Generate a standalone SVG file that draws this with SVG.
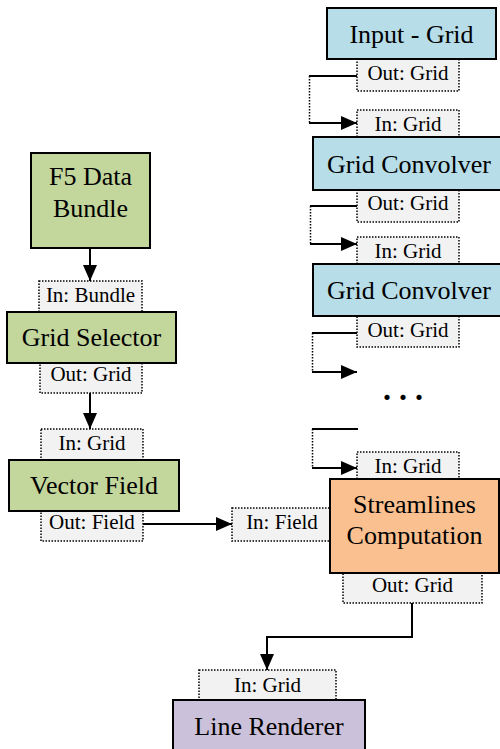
<svg xmlns="http://www.w3.org/2000/svg" width="500" height="749" viewBox="0 0 500 749">
<defs>
<style>
.port{fill:#f2f2f2;stroke:#000;stroke-width:1.5;stroke-dasharray:1.5 1.5}
.node{stroke:#000;stroke-width:2}
.blue{fill:#b7dde8}.green{fill:#c3d69b}.orange{fill:#fac090}.purple{fill:#ccc1da}
.t{font-family:'Liberation Serif',Tinos,'Times New Roman','DejaVu Serif',serif;font-size:26px;text-anchor:middle;fill:#000}
.p{font-family:'Liberation Serif',Tinos,'Times New Roman','DejaVu Serif',serif;font-size:21px;text-anchor:middle;fill:#000}
.dots{font-family:'Liberation Serif',Tinos,'Times New Roman','DejaVu Serif',serif;font-size:32px;font-weight:bold;text-anchor:middle;fill:#000}
.c{fill:none;stroke:#000;stroke-width:2}
.d{fill:none;stroke:#000;stroke-width:1.5;stroke-dasharray:1.5 1.5}
</style>
<marker id="arr" viewBox="0 0 16 14" refX="16" refY="7" markerWidth="16" markerHeight="14" markerUnits="userSpaceOnUse" orient="auto">
<path d="M0,0 L16,7 L0,14 Z" fill="#000"/>
</marker>
</defs>
<g id="connectors">
<path class="c" d="M90,248 V281" marker-end="url(#arr)"/>
<path class="c" d="M90,393 V429" marker-end="url(#arr)"/>
<path class="c" d="M143,524 H232" marker-end="url(#arr)"/>
<path class="c" d="M412,603 V637 H267 V670" marker-end="url(#arr)"/>
<path class="c" d="M357,76 H309"/><path class="d" d="M309.5,76 V123"/><path class="c" d="M309,123 H357" marker-end="url(#arr)"/>
<path class="c" d="M357,206 H310"/><path class="d" d="M310.5,206 V244"/><path class="c" d="M310,244 H357" marker-end="url(#arr)"/>
<path class="c" d="M357,333 H312"/><path class="d" d="M312.5,333 V372"/><path class="c" d="M312,372 H357" marker-end="url(#arr)"/>
<path class="c" d="M358,429 H312"/><path class="d" d="M312.5,429 V468"/><path class="c" d="M312,468 H357" marker-end="url(#arr)"/>
</g>
<g id="ports">
<g id="input-grid-out"><rect class="port" x="357" y="56" width="102" height="35"/><text class="p" x="408" y="80">Out: Grid</text></g>
<g id="conv1-in"><rect class="port" x="357" y="110" width="102" height="30"/><text class="p" x="408" y="131">In: Grid</text></g>
<g id="conv1-out"><rect class="port" x="357" y="187" width="102" height="35"/><text class="p" x="408" y="210">Out: Grid</text></g>
<g id="conv2-in"><rect class="port" x="357" y="237" width="102" height="30"/><text class="p" x="408" y="258">In: Grid</text></g>
<g id="conv2-out"><rect class="port" x="357" y="313" width="102" height="34"/><text class="p" x="408" y="337">Out: Grid</text></g>
<g id="stream-in"><rect class="port" x="357" y="452" width="102" height="30"/><text class="p" x="408" y="473">In: Grid</text></g>
<g id="stream-field-in"><rect class="port" x="232" y="508" width="110" height="33"/><text class="p" x="282" y="529">In: Field</text></g>
<g id="stream-out"><rect class="port" x="343" y="570" width="139" height="33"/><text class="p" x="412.5" y="592">Out: Grid</text></g>
<g id="f5-in"><rect class="port" x="39" y="281" width="103" height="34"/><text class="p" x="90.5" y="302">In: Bundle</text></g>
<g id="sel-out"><rect class="port" x="40" y="360" width="102" height="33"/><text class="p" x="91" y="381">Out: Grid</text></g>
<g id="vf-in"><rect class="port" x="41" y="429" width="102" height="34"/><text class="p" x="92" y="450">In: Grid</text></g>
<g id="vf-out"><rect class="port" x="41" y="508" width="102" height="33"/><text class="p" x="92" y="529">Out: Field</text></g>
<g id="lr-in"><rect class="port" x="199" y="670" width="137" height="33"/><text class="p" x="267.5" y="692">In: Grid</text></g>
</g>
<g id="input-grid"><rect class="node blue" x="327" y="8" width="169" height="51"/><text class="t" x="411.5" y="43">Input - Grid</text></g>
<g id="grid-convolver-1"><rect class="node blue" x="313" y="137" width="192" height="53"/><text class="t" x="409" y="172.5">Grid Convolver</text></g>
<g id="grid-convolver-2"><rect class="node blue" x="313" y="264" width="192" height="52"/><text class="t" x="409" y="299">Grid Convolver</text></g>
<text class="dots" x="403" y="399.5">. . .</text>
<g id="f5-data-bundle"><rect class="node green" x="31" y="153" width="119" height="95"/><text class="t" x="90.5" y="185">F5 Data</text><text class="t" x="90.5" y="217">Bundle</text></g>
<g id="grid-selector"><rect class="node green" x="7" y="312" width="169" height="51"/><text class="t" x="91.5" y="346">Grid Selector</text></g>
<g id="vector-field"><rect class="node green" x="9" y="460" width="170" height="51"/><text class="t" x="94" y="494">Vector Field</text></g>
<g id="streamlines"><rect class="node orange" x="330" y="479" width="169" height="94"/><text class="t" x="414.5" y="513">Streamlines</text><text class="t" x="414.5" y="544">Computation</text></g>
<g id="line-renderer"><rect class="node purple" x="173" y="700" width="192" height="60"/><text class="t" x="269" y="735">Line Renderer</text></g>
</svg>
